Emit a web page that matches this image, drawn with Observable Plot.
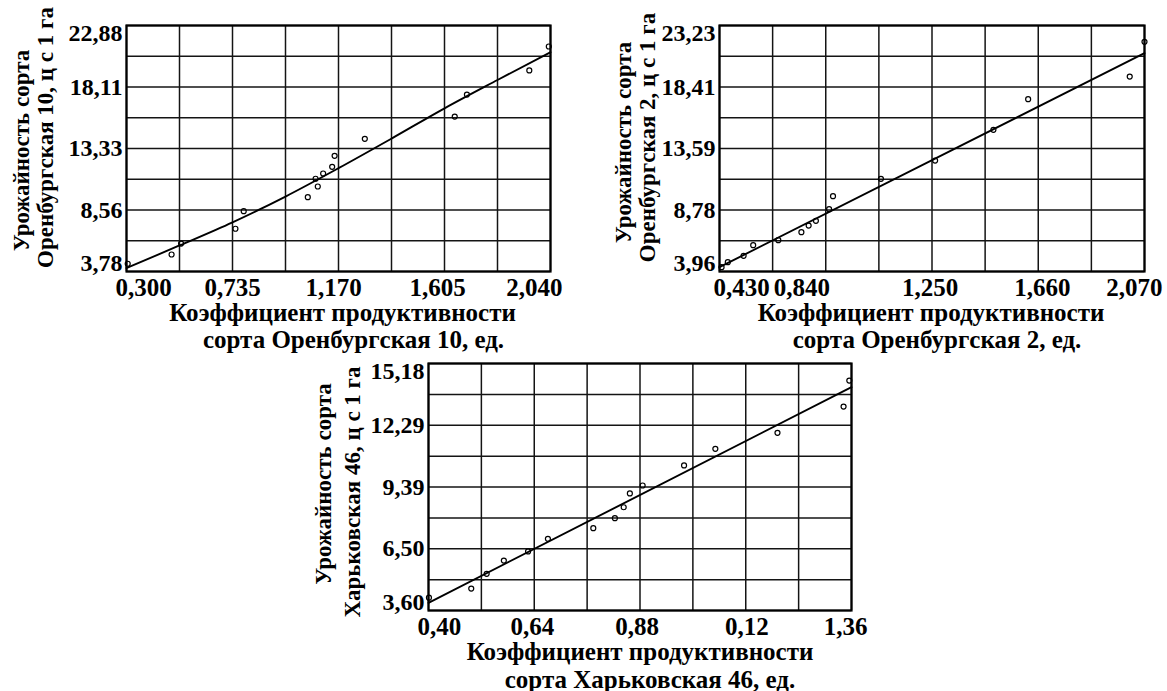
<!DOCTYPE html>
<html><head><meta charset="utf-8">
<script src="https://cdn.jsdelivr.net/npm/d3@7"></script>
<script src="https://cdn.jsdelivr.net/npm/@observablehq/plot@0.6"></script>
<style>
body{margin:0;background:#fff;width:1167px;height:691px;position:relative;overflow:hidden;}
.panel{position:absolute;}
.panel svg{overflow:visible;}
</style></head><body>
<div id="p1" class="panel" style="left:0px;top:0px"></div>
<div id="p2" class="panel" style="left:590px;top:0px"></div>
<div id="p3" class="panel" style="left:290px;top:330px"></div>
<script>
// ---------- Panel 1: Оренбургская 10 ----------
const p1XTicks = [0.300, 0.735, 1.170, 1.605, 2.040];
const p1XLabels = ["0,300", "0,735", "1,170", "1,605", "2,040"];
const p1YTicks = [3.78, 8.56, 13.33, 18.11, 22.88];
const p1YLabels = ["3,78", "8,56", "13,33", "18,11", "22,88"];
const p1X = [0.305, 0.485, 0.524, 0.747, 0.781, 1.044, 1.076, 1.085, 1.107, 1.144, 1.154, 1.278, 1.647, 1.697, 1.953, 2.033];
const p1Y = [4.38, 5.10, 5.95, 7.10, 8.46, 9.55, 10.98, 10.38, 11.39, 11.91, 12.76, 14.08, 15.81, 17.52, 19.39, 21.25];
const p1FitX = [0.300, 0.5175, 0.735, 0.9525, 1.170, 1.3875, 1.605, 1.8225, 2.040];
const p1FitY = [4.04, 5.80, 7.60, 9.60, 11.80, 14.10, 16.45, 18.65, 20.81];
const p1YTitle = ["Урожайность сорта", "Оренбургская 10, ц с 1 га"];
const p1XTitle = ["Коэффициент продуктивности", "сорта Оренбургская 10, ед."];

// ---------- Panel 2: Оренбургская 2 ----------
const p2XTicks = [0.430, 0.840, 1.250, 1.660, 2.070];
const p2XLabels = ["0,430", "0,840", "1,250", "1,660", "2,070"];
const p2YTicks = [3.96, 8.78, 13.59, 18.41, 23.23];
const p2YLabels = ["3,96", "8,78", "13,59", "18,41", "23,23"];
const p2X = [0.438, 0.462, 0.523, 0.560, 0.657, 0.746, 0.774, 0.802, 0.853, 0.868, 1.053, 1.262, 1.487, 1.621, 2.013, 2.070];
const p2Y = [4.30, 4.69, 5.19, 6.02, 6.41, 7.04, 7.56, 7.93, 8.84, 9.86, 11.22, 12.65, 15.06, 17.46, 19.23, 21.95];
const p2FitX = [0.430, 2.070];
const p2FitY = [4.30, 21.06];
const p2YTitle = ["Урожайность сорта", "Оренбургская 2, ц с 1 га"];
const p2XTitle = ["Коэффициент продуктивности", "сорта Оренбургская 2, ед."];

// ---------- Panel 3: Харьковская 46 ----------
const p3XTicks = [0.40, 0.64, 0.88, 1.12, 1.36];
const p3XLabels = ["0,40", "0,64", "0,88", "0,12", "1,36"];
const p3YTicks = [3.60, 6.50, 9.39, 12.29, 15.18];
const p3YLabels = ["3,60", "6,50", "9,39", "12,29", "15,18"];
const p3X = [0.401, 0.497, 0.532, 0.571, 0.626, 0.671, 0.774, 0.823, 0.843, 0.857, 0.886, 0.980, 1.051, 1.192, 1.342, 1.355];
const p3Y = [4.20, 4.63, 5.32, 5.94, 6.37, 6.96, 7.46, 7.93, 8.44, 9.09, 9.46, 10.40, 11.18, 11.93, 13.16, 14.38];
const p3FitX = [0.40, 1.36];
const p3FitY = [3.96, 14.07];
const p3YTitle = ["Урожайность сорта", "Харьковская 46, ц с 1 га"];
const p3XTitle = ["Коэффициент продуктивности", "сорта Харьковская 46, ед."];

const FONT = "'Liberation Serif','Times New Roman',serif";

function makePanel(o) {
  const x0 = o.xTicks[0], x1 = o.xTicks[o.xTicks.length - 1];
  const y0 = o.yTicks[0], y1 = o.yTicks[o.yTicks.length - 1];
  const gx = d3.range(9).map(i => x0 + i * (x1 - x0) / 8);
  const gy = d3.range(9).map(i => y0 + i * (y1 - y0) / 8);
  const pts = o.xs.map((x, i) => ({x, y: o.ys[i]}));
  const fit = o.fitX.map((x, i) => ({x, y: o.fitY[i]}));
  const xi = o.xTicks.map((t, i) => i);
  const yi = o.yTicks.map((t, i) => i);
  const n = xi.length - 1;
  const txt = {fill: "#000", fontWeight: "bold", fontFamily: FONT};
  const xLab = {x: i => o.xTicks[i], text: i => o.xLabels[i], frameAnchor: "bottom", dy: 16, textAnchor: "middle", lineAnchor: "middle", fontSize: 25, ...txt};
  const yLab = {y: i => o.yTicks[i], text: i => o.yLabels[i], frameAnchor: "left", dx: -4, textAnchor: "end", lineAnchor: "middle", fontSize: 24, ...txt};
  const midX = xi.slice(1, n);
  const midMarks = midX.map(i => Plot.text([i], {...xLab, dx: (o.xMidDx && o.xMidDx[i - 1]) || 0}));
  return Plot.plot({
    width: o.width, height: o.height,
    marginLeft: o.mL, marginRight: o.mR, marginTop: o.mT, marginBottom: o.mB,
    x: {domain: [x0, x1], axis: null},
    y: {domain: [y0, y1], axis: null},
    style: {background: "transparent", fontFamily: FONT, overflow: "visible"},
    marks: [
      Plot.gridX(gx, {stroke: "#141414", strokeOpacity: 1, strokeWidth: 1.5}),
      Plot.gridY(gy, {stroke: "#141414", strokeOpacity: 1, strokeWidth: 1.5}),
      Plot.frame({stroke: "#000", strokeWidth: 2.2}),
      Plot.line(fit, {x: "x", y: "y", stroke: "#000", strokeWidth: 1.9, curve: "monotone-x"}),
      Plot.dot(pts, {x: "x", y: "y", r: 2.5, stroke: "#000", strokeWidth: 1.2, fill: "none"}),
      // x tick labels
      Plot.text([0], {...xLab, textAnchor: "start", dx: o.xFirstDx}),
      ...midMarks,
      Plot.text([n], {...xLab, textAnchor: "end", dx: o.xLastDx}),
      // y tick labels
      Plot.text([0], {...yLab, dy: -8}),
      Plot.text(yi.slice(1, n), yLab),
      Plot.text([n], {...yLab, dy: 8}),
      // axis titles
      Plot.text([o.xTitle[0]], {frameAnchor: "bottom", dx: o.xt1[0], dy: o.xt1[1], textAnchor: "middle", lineAnchor: "middle", fontSize: 25, ...txt}),
      Plot.text([o.xTitle[1]], {frameAnchor: "bottom", dx: o.xt2[0], dy: o.xt2[1], textAnchor: "middle", lineAnchor: "middle", fontSize: 25, ...txt}),
      Plot.text([o.yTitle[0]], {frameAnchor: "left", rotate: -90, dx: o.yt1[0], dy: o.yt1[1], textAnchor: "middle", lineAnchor: "middle", fontSize: 23, ...txt}),
      Plot.text([o.yTitle[1]], {frameAnchor: "left", rotate: -90, dx: o.yt2[0], dy: o.yt2[1], textAnchor: "middle", lineAnchor: "middle", fontSize: 23, ...txt})
    ]
  });
}

document.getElementById("p1").append(makePanel({
  xTicks: p1XTicks, xLabels: p1XLabels, yTicks: p1YTicks, yLabels: p1YLabels,
  xs: p1X, ys: p1Y, fitX: p1FitX, fitY: p1FitY, xTitle: p1XTitle, yTitle: p1YTitle,
  width: 580, height: 350, mL: 126, mR: 30, mT: 25, mB: 79,
  xFirstDx: -11, xLastDx: 12, xMidDx: [0, -5, -7],
  xt1: [4, 41], xt2: [15, 68], yt1: [-105, 2], yt2: [-81, -11]
}));
document.getElementById("p2").append(makePanel({
  xTicks: p2XTicks, xLabels: p2XLabels, yTicks: p2YTicks, yLabels: p2YLabels,
  xs: p2X, ys: p2Y, fitX: p2FitX, fitY: p2FitY, xTitle: p2XTitle, yTitle: p2YTitle,
  width: 577, height: 350, mL: 129, mR: 23, mT: 25, mB: 79,
  xFirstDx: -6, xLastDx: 18, xMidDx: [-24, -2, 4],
  xt1: [-1, 41], xt2: [5, 68], yt1: [-96, -6], yt2: [-72, -11]
}));
document.getElementById("p3").append(makePanel({
  xTicks: p3XTicks, xLabels: p3XLabels, yTicks: p3YTicks, yLabels: p3YLabels,
  xs: p3X, ys: p3Y, fitX: p3FitX, fitY: p3FitY, xTitle: p3XTitle, yTitle: p3YTitle,
  width: 580, height: 361, mL: 138, mR: 19, mT: 33, mB: 81,
  xFirstDx: -11, xLastDx: 16, xMidDx: [-2, -3, 1],
  xt1: [0, 41], xt2: [10, 69], yt1: [-105, -3], yt2: [-76, 5]
}));
</script>
</body></html>
